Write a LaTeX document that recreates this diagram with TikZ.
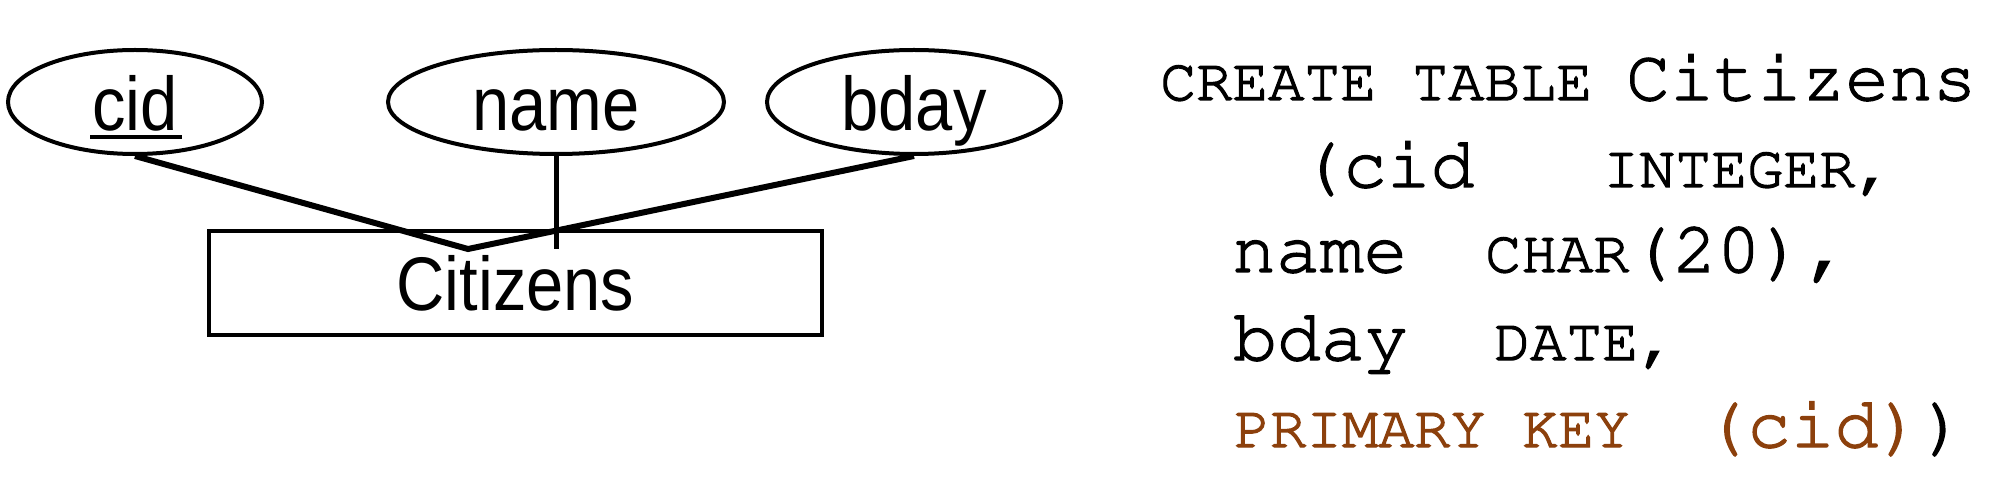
\documentclass[tikz,border=0pt]{standalone}
\usepackage{fontspec}
\setmainfont{Liberation Sans}[FakeStretch=0.88]
\usetikzlibrary{shapes.geometric}
\definecolor{keybrown}{RGB}{140,64,12}
\newcommand\bigmono{\fontencoding{T1}\fontfamily{pcr}\fontseries{m}\fontshape{n}\fontsize{73}{73}\selectfont}
\newcommand\smallmono{\fontencoding{T1}\fontfamily{pcr}\fontseries{m}\fontshape{n}\fontsize{60}{60}\selectfont}
\newcommand\heavyink{\special{pdf:literal direct 2 Tr 1.4 w}}
\begin{document}
\begin{tikzpicture}[x=1pt,y=-1pt,
  attr/.style={ellipse, draw, line width=4pt, inner sep=0pt,
    minimum height=104pt, font=\fontsize{76}{76}\selectfont,
    text height=58pt, text depth=0pt},
  entbox/.style={draw, line width=4.3pt, inner sep=0pt,
    font=\fontsize{76}{76}\selectfont, text height=56pt, text depth=0pt},
  link/.style={line width=6pt},
  stem/.style={line width=5pt},
  sqlbig/.style={anchor=base west, inner sep=0pt, font=\bigmono\heavyink},
  sqlsmall/.style={anchor=base west, inner sep=0pt, font=\smallmono\heavyink}]
\useasboundingbox (0,0) rectangle (1990,478);
% ER diagram
\node[attr, minimum width=254pt] (cid) at (135,102) {cid};
\node[attr, minimum width=336pt] (name) at (556,102) {name};
\node[attr, minimum width=294pt] (bday) at (914,102) {bday};
\node[entbox, minimum width=613pt, minimum height=104pt] (cit) at (515.5,283) {Citizens};
\draw[line width=4.5pt] (cid.center) ++(-45,35) -- ++(92,0);
\coordinate (meet) at (468,249);
\coordinate (namefoot) at (556,249);
\draw[link, line join=miter] (cid.south) -- (meet) -- (bday.south);
\draw[stem] (name.south) -- (namefoot);
% SQL
\node[sqlsmall] (create) at (1160,100) {CREATE TABLE};
\node[sqlbig] (tname) at (1626,100) {Citizens};
\node[sqlbig] (c1) at (1299,187) {(cid};
\node[sqlsmall] (t1) at (1603,187) {INTEGER,};
\node[sqlbig] (c2) at (1232,272) {name};
\node[sqlsmall] (t2) at (1485,272) {CHAR{\bigmono(20),}};
\node[sqlbig] (c3) at (1233,360) {bday};
\node[sqlsmall] (t3) at (1494,360) {DATE,};
\node[sqlsmall, text=keybrown] (pk) at (1234,447) {PRIMARY KEY};
\node[sqlbig] (pkcol) at (1703,447) {\textcolor{keybrown}{(cid)})};
\end{tikzpicture}
\end{document}
